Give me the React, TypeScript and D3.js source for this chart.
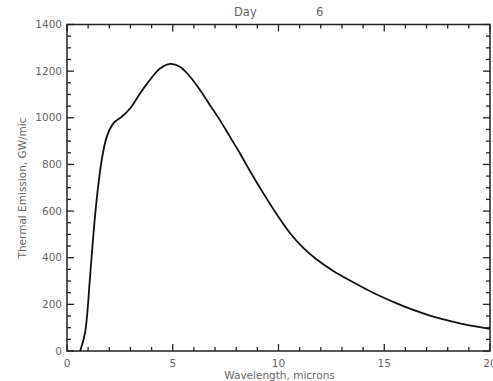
import React from "react";
import * as d3 from "d3";

const wavelength = [0.62, 0.85, 1.09, 1.24, 1.4, 1.64, 1.88, 2.19, 2.58, 2.98, 3.45, 3.85, 4.4, 4.87, 5.34, 5.82, 6.29, 6.76, 7.23, 7.71, 8.18, 8.65, 9.28, 9.91, 10.54, 11.17, 11.81, 12.59, 13.38, 14.17, 14.8, 15.59, 16.37, 17.16, 17.95, 18.74, 20];
const emission = [0, 76, 318, 490, 647, 818, 918, 976, 1004, 1040, 1104, 1154, 1211, 1231, 1219, 1176, 1119, 1054, 990, 918, 847, 772, 677, 587, 506, 442, 392, 343, 302, 264, 236, 204, 176, 152, 132, 115, 95];
const xMajorTicks = [0, 5, 10, 15, 20];
const xTickLabels = ["0", "5", "10", "15", "20"];
const yMajorTicks = [0, 200, 400, 600, 800, 1000, 1200, 1400];
const titleWord = "Day";
const titleNumber = "6";
const xLabel = "Wavelength, microns";
const yLabel = "Thermal Emission, GW/mic";

const W = 493;
const H = 381;
const L = 67, R = 490, T = 24.5, B = 351;

export default function App() {
  const x = d3.scaleLinear().domain([0, 20]).range([L, R]);
  const y = d3.scaleLinear().domain([0, 1400]).range([B, T]);
  const xMinor = d3.range(0, 21, 1).filter((v) => v % 5 !== 0);
  const yMinor = d3.range(0, 1401, 50).filter((v) => v % 200 !== 0);
  const pts = wavelength.map((w, i) => [w, emission[i]] as [number, number]);
  const line = d3
    .line<[number, number]>()
    .x((d) => x(d[0]))
    .y((d) => y(d[1]))
    .curve(d3.curveCatmullRom.alpha(0.5));
  const axisColor = "#222";
  const textColor = "#666";
  const font = "DejaVu Sans, sans-serif";
  const fs = 10.5;
  const major = 7, minor = 4;

  return (
    <svg
      width={W}
      height={H}
      style={{ position: "absolute", left: 0, top: 0, background: "#fff" }}
      fontFamily={font}
    >
      <rect x={0} y={0} width={W} height={H} fill="#fff" />
      <rect x={L} y={T} width={R - L} height={B - T} fill="none" stroke={axisColor} strokeWidth={1.5} />
      {xMajorTicks.map((v) => (
        <g key={"xm" + v}>
          <line x1={x(v)} x2={x(v)} y1={B} y2={B - major} stroke={axisColor} strokeWidth={1.3} />
          <line x1={x(v)} x2={x(v)} y1={T} y2={T + major} stroke={axisColor} strokeWidth={1.3} />
        </g>
      ))}
      {xMinor.map((v) => (
        <g key={"xn" + v}>
          <line x1={x(v)} x2={x(v)} y1={B} y2={B - minor} stroke={axisColor} strokeWidth={1.3} />
          <line x1={x(v)} x2={x(v)} y1={T} y2={T + minor} stroke={axisColor} strokeWidth={1.3} />
        </g>
      ))}
      {yMajorTicks.map((v) => (
        <g key={"ym" + v}>
          <line x1={L} x2={L + major} y1={y(v)} y2={y(v)} stroke={axisColor} strokeWidth={1.3} />
          <line x1={R} x2={R - major} y1={y(v)} y2={y(v)} stroke={axisColor} strokeWidth={1.3} />
        </g>
      ))}
      {yMinor.map((v) => (
        <g key={"yn" + v}>
          <line x1={L} x2={L + minor} y1={y(v)} y2={y(v)} stroke={axisColor} strokeWidth={1.3} />
          <line x1={R} x2={R - minor} y1={y(v)} y2={y(v)} stroke={axisColor} strokeWidth={1.3} />
        </g>
      ))}
      {xMajorTicks.map((v, i) => (
        <text key={"xl" + v} x={x(v)} y={367} textAnchor="middle" fontSize={fs} fill={textColor}>
          {xTickLabels[i]}
        </text>
      ))}
      {yMajorTicks.map((v) => (
        <text key={"yl" + v} x={62} y={y(v)} dy="0.35em" textAnchor="end" fontSize={fs} fill={textColor}>
          {v}
        </text>
      ))}
      <path d={line(pts) || ""} fill="none" stroke="#111" strokeWidth={1.8} />
      <text x={234} y={16} fontSize={11.5} fill={textColor}>
        {titleWord}
      </text>
      <text x={316} y={16} fontSize={11.5} fill={textColor}>
        {titleNumber}
      </text>
      <text x={279.5} y={379} textAnchor="middle" fontSize={fs} fill={textColor}>
        {xLabel}
      </text>
      <text
        transform={`translate(26,${188}) rotate(-90)`}
        textAnchor="middle"
        fontSize={fs}
        fill={textColor}
      >
        {yLabel}
      </text>
    </svg>
  );
}
